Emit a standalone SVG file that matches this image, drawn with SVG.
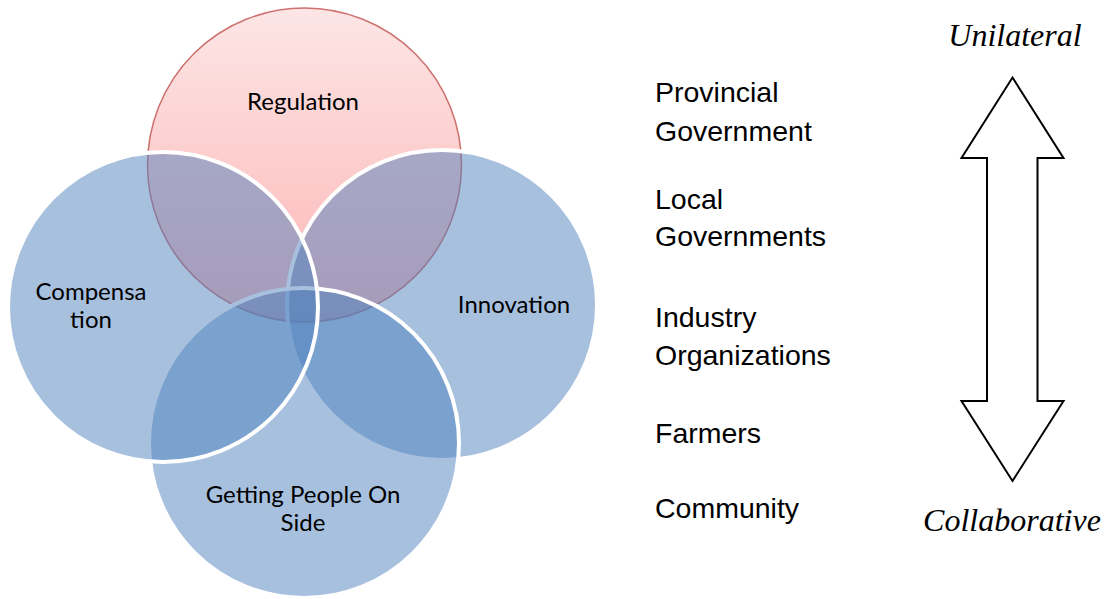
<svg xmlns="http://www.w3.org/2000/svg" width="1104" height="599" viewBox="0 0 1104 599">
<defs>
<linearGradient id="redgrad" x1="0" y1="0" x2="0" y2="1">
<stop offset="0" stop-color="#fde6e6"/>
<stop offset="1" stop-color="#fdb4b4"/>
</linearGradient>
</defs>
<style>
.blue{fill:#4f81bd;fill-opacity:0.5;stroke:#ffffff;stroke-width:4}
.red{fill:url(#redgrad);stroke:#c0504d;stroke-width:1.5;stroke-opacity:0.8}
.clabel{font-family:Lato,"Open Sans",sans-serif;font-size:24px;fill:#000;text-anchor:middle}
.actor{font-family:"Liberation Sans",Arial,sans-serif;font-size:28.5px;fill:#000}
.pole{font-family:"Liberation Serif","Times New Roman",serif;font-style:italic;font-size:32px;fill:#000;text-anchor:middle}
.arrow{fill:#fff;stroke:#000;stroke-width:2;stroke-linejoin:miter}
</style>
<rect width="1104" height="599" fill="#fff"/>
<g id="regulation">
<circle class="red" cx="304.5" cy="165" r="157"/>
</g>
<g id="innovation">
<circle class="blue" cx="442" cy="305" r="155"/>
</g>
<g id="getting-people">
<circle class="blue" cx="304" cy="443" r="155"/>
</g>
<g id="compensation">
<circle class="blue" cx="163" cy="307" r="155"/>
</g>
<g id="labels">
<text class="clabel" x="303" y="110">Regulation</text>
<text class="clabel" x="91" y="300">Compensa</text>
<text class="clabel" x="91" y="328">tion</text>
<text class="clabel" x="514" y="313">Innovation</text>
<text class="clabel" x="303" y="503">Getting People On</text>
<text class="clabel" x="303" y="531">Side</text>
</g>
<g id="actors">
<text class="actor" x="655" y="102">Provincial</text>
<text class="actor" x="655" y="141">Government</text>
<text class="actor" x="655" y="209">Local</text>
<text class="actor" x="655" y="246">Governments</text>
<text class="actor" x="655" y="327">Industry</text>
<text class="actor" x="655" y="365">Organizations</text>
<text class="actor" x="655" y="443">Farmers</text>
<text class="actor" x="655" y="518">Community</text>
</g>
<g id="connectors">
<path id="scale-arrow" class="arrow" d="M1012.5,77.5 L1063.5,158 L1037.5,158 L1037.5,401 L1063.5,401 L1012.5,481 L961.5,401 L987,401 L987,158 L961.5,158 Z"/>
</g>
<g id="poles">
<text class="pole" x="1015" y="46">Unilateral</text>
<text class="pole" x="1012" y="531">Collaborative</text>
</g>
</svg>
